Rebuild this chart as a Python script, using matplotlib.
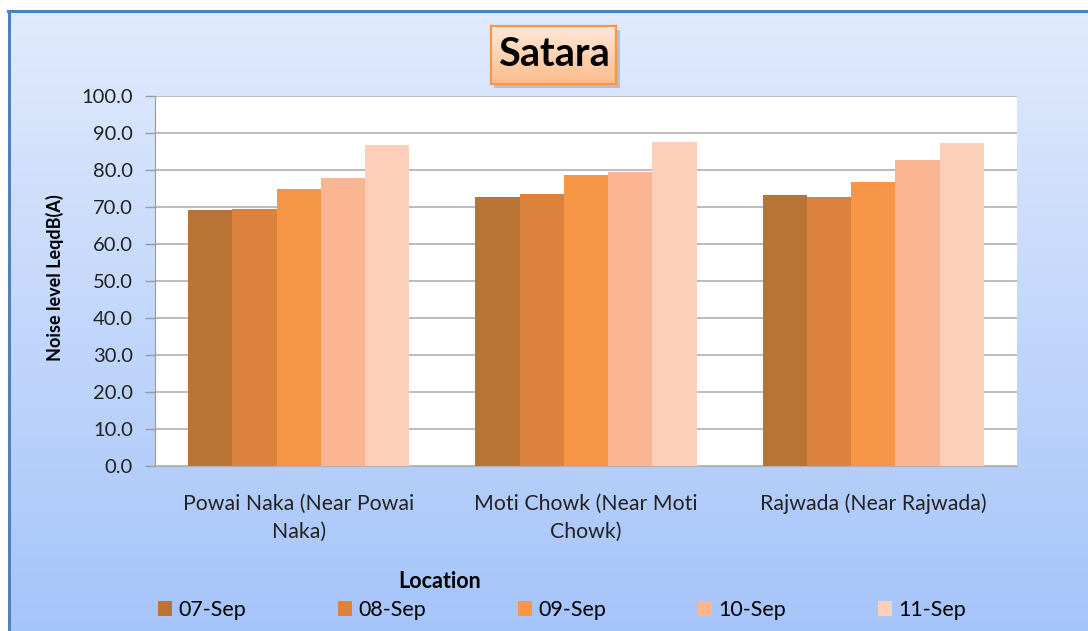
import numpy as np
import matplotlib.pyplot as plt
from matplotlib.patches import Rectangle

# data
locations = ["Powai Naka (Near Powai\nNaka)", "Moti Chowk (Near Moti\nChowk)", "Rajwada (Near Rajwada)"]
dates = ["07-Sep", "08-Sep", "09-Sep", "10-Sep", "11-Sep"]
sep07 = [69.2, 72.6, 73.2]
sep08 = [69.5, 73.5, 72.6]
sep09 = [75.0, 78.6, 76.8]
sep10 = [77.8, 79.5, 82.6]
sep11 = [86.8, 87.5, 87.2]
yticks = np.arange(0, 101, 10)

series = [sep07, sep08, sep09, sep10, sep11]
colors = ["#B97334", "#DB833E", "#F79646", "#F9B691", "#FBCFBA"]

plt.rcParams['font.family'] = ['Lato', 'DejaVu Sans']

W, H = 1088, 631
fig = plt.figure(figsize=(W / 100, H / 100), dpi=100)
fig.patch.set_facecolor('white')

# gradient chart background
bg = fig.add_axes([8 / W, 0, 1 - 8 / W, 1 - 10 / H])
bg.set_zorder(-2)
grad = np.linspace(0, 1, 256)[:, None, None]
top = np.array([0.88, 0.92, 0.99])
bot = np.array([0.65, 0.77, 0.98])
bg.imshow(top + (bot - top) * grad, aspect='auto', extent=[0, 1, 0, 1])
bg.set_axis_off()
fig.add_artist(plt.Line2D([8 / W, 1], [1 - 11 / H, 1 - 11 / H], color='#4F81BD', lw=2.2))
fig.add_artist(plt.Line2D([9 / W, 9 / W], [0, 1 - 11 / H], color='#4F81BD', lw=2.2))

# plot area
left, right, ptop, pbot = 155, 1017, 96, 466
ax = fig.add_axes([left / W, 1 - pbot / H, (right - left) / W, (pbot - ptop) / H])
ax.set_facecolor('white')

x = np.arange(len(locations))
w = 1 / 6.5
for i, (vals, c) in enumerate(zip(series, colors)):
    ax.bar(x + (i - 2) * w, vals, width=w, color=c, edgecolor='none',
           label=dates[i], zorder=3)

ax.set_xlim(-0.5, 2.5)
ax.set_ylim(0, 100)
ax.set_yticks(yticks)
ax.set_yticklabels([f"{v:.1f}" for v in yticks], fontsize=14.5, color='#222222')
ax.yaxis.grid(True, color='#B0B0B0', lw=1.2, zorder=0)
ax.tick_params(axis='y', length=7, width=1, color='#9A9A9A', pad=9)
ax.set_xticks(x)
ax.set_xticklabels(locations, fontsize=15.3, color='#222222', linespacing=1.5)
ax.tick_params(axis='x', length=0, pad=20)
for s in ['top', 'right']:
    ax.spines[s].set_visible(False)
ax.spines['left'].set_color('#9A9A9A')
ax.spines['bottom'].set_color('#B0B0B0')

fig.text(55 / W, 1 - 278 / H, "Noise level LeqdB(A)", rotation=90, fontsize=13,
         fontweight='bold', ha='center', va='center')
fig.text(440 / W, 1 - 582 / H, "Location", fontsize=15.5, fontweight='bold',
         ha='center', va='center')

# title box: shadow, gradient fill, orange border
shadow = Rectangle((494 / W, 1 - 88 / H), 126 / W, 58 / H,
                   transform=fig.transFigure, facecolor='#8E9AB4',
                   edgecolor='none', alpha=0.5, zorder=-1)
fig.add_artist(shadow)
tb = fig.add_axes([491 / W, 1 - 84 / H, 125 / W, 58 / H])
tgrad = np.linspace(0, 1, 64)[:, None, None]
t0 = np.array([1.0, 0.91, 0.84])
t1 = np.array([0.99, 0.74, 0.55])
tb.imshow(t0 + (t1 - t0) * tgrad, aspect='auto', extent=[0, 1, 0, 1])
tb.set_xticks([])
tb.set_yticks([])
for s in tb.spines.values():
    s.set_color('#F79646')
    s.set_linewidth(1.6)
tb.text(0.5, 0.5, "Satara", fontsize=28.5, fontweight='bold', ha='center',
        va='center', transform=tb.transAxes)

handles, labels = ax.get_legend_handles_labels()
fig.legend(handles, labels, loc='center', bbox_to_anchor=(562 / W, 1 - 610 / H),
           ncol=5, frameon=False, fontsize=15.4, handlelength=0.65, handleheight=0.65,
           handletextpad=0.3, columnspacing=4.3)

fig.savefig("out.png", dpi=100)
